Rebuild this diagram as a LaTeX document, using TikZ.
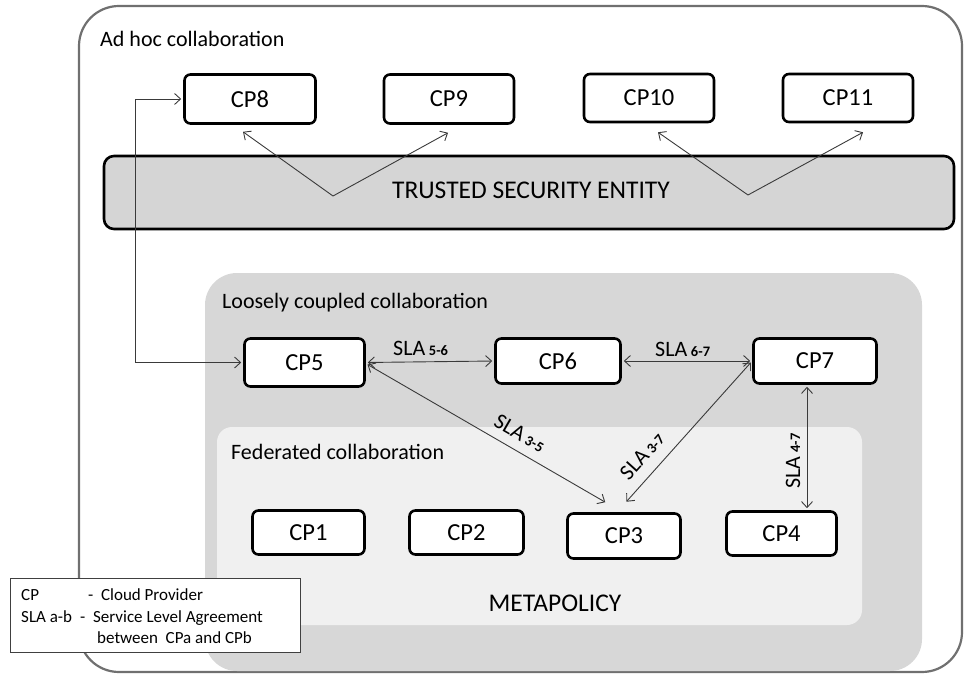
\documentclass[tikz,border=0pt]{standalone}
\usepackage{fontspec}
\setmainfont{Carlito}
\usetikzlibrary{arrows.meta,calc}
\definecolor{loosegray}{HTML}{D7D7D7}
\definecolor{fedgray}{HTML}{F0F0F0}
\definecolor{tsegray}{HTML}{D5D5D5}
\definecolor{arrgray}{HTML}{3A3A3A}
\definecolor{outergray}{HTML}{707070}
\begin{document}
\begin{tikzpicture}[x=1pt,y=-1pt,
  cpbox/.style={draw=black, line width=2.6pt, rounded corners=6pt, fill=white, inner sep=0pt,
    font=\fontsize{24.5}{28}\selectfont},
  toplbl/.style={font=\fontsize{22}{26}\selectfont, anchor=base west, inner sep=0pt},
  biglbl/.style={font=\fontsize{25.5}{30}\selectfont, inner sep=0pt},
  legtxt/.style={font=\fontsize{17}{20}\selectfont, anchor=base west, inner sep=0pt},
  slalbl/.style={font=\fontsize{22}{26}\selectfont, inner sep=0pt},
  link/.style={draw=arrgray, line width=0.9pt,
    {Straight Barb[length=6pt,width=11pt]}-{Straight Barb[length=6pt,width=11pt]},
    shorten <=2pt, shorten >=2pt},
  onelink/.style={draw=arrgray, line width=0.9pt,
    -{Straight Barb[length=6pt,width=11pt]}}]
\useasboundingbox (0,0) rectangle (965,676);
\newcommand{\slatext}[1]{SLA\,{\fontsize{14.5}{17}\selectfont\bfseries #1}}

% regions
\draw[outergray, line width=2.2pt, rounded corners=40pt] (79,6) rectangle (962,672);
\fill[loosegray, rounded corners=32pt] (205,273) rectangle (922,671);
\fill[fedgray, rounded corners=15pt] (217,427) rectangle (862,625);
\draw[black, line width=2.6pt, fill=tsegray, rounded corners=10pt] (104,156) rectangle (954,229);

% region labels
\node[toplbl] (adhoc) at (100,47) {Ad hoc collaboration};
\node[toplbl] (loose) at (222,308) {Loosely coupled collaboration};
\node[toplbl] (fed) at (231,459) {Federated collaboration};
\node[biglbl] (tse) at (531,190) {TRUSTED SECURITY ENTITY};
\node[biglbl] (meta) at (555,603) {METAPOLICY};

% CP boxes
\node[cpbox, minimum width=131, minimum height=49] (cp8) at (250,99) {CP8};
\node[cpbox, minimum width=130, minimum height=49] (cp9) at (449,99) {CP9};
\node[cpbox, minimum width=130, minimum height=48] (cp10) at (649,98) {CP10};
\node[cpbox, minimum width=130, minimum height=48] (cp11) at (848,98) {CP11};
\node[cpbox, minimum width=120, minimum height=48] (cp5) at (304.5,362.5) {CP5};
\node[cpbox, minimum width=125, minimum height=45] (cp6) at (558,361) {CP6};
\node[cpbox, minimum width=123, minimum height=45] (cp7) at (815,361) {CP7};
\node[cpbox, minimum width=112, minimum height=44] (cp1) at (308.5,532.5) {CP1};
\node[cpbox, minimum width=114, minimum height=44] (cp2) at (466.5,532.5) {CP2};
\node[cpbox, minimum width=113, minimum height=45] (cp3) at (624,536) {CP3};
\node[cpbox, minimum width=110, minimum height=44] (cp4) at (781.5,533.5) {CP4};

% trusted entity arrows
\coordinate (v1) at (333,196);
\coordinate (v2) at (748,195);
\draw[onelink] (v1) -- ([xshift=-7pt,yshift=-7pt]cp8.south);
\draw[onelink] (v1) -- ([xshift=-1pt,yshift=-8pt]cp9.south);
\draw[onelink] (v2) -- ([xshift=9pt,yshift=-9pt]cp10.south);
\draw[onelink] (v2) -- ([xshift=15pt,yshift=-9pt]cp11.south);

% CP5 to CP8 elbow
\coordinate (e1) at (135,362.5);
\coordinate (e2) at (135,99);
\draw[link] (cp5.west) -- (e1) -- (e2) -- (cp8.west);

% SLA links
\draw[link] (cp5.east) -- (cp6.west);
\draw[link] (cp6.east) -- (cp7.west);
\draw[link] ([yshift=-1pt]cp5.east) -- ([xshift=-17pt,yshift=9pt]cp3.north);
\draw[link] ([xshift=1pt,yshift=9pt]cp3.north) -- (cp7.west);
\draw[link] ([xshift=-8pt]cp7.south) -- ([xshift=25.5pt]cp4.north);

% SLA labels
\node[slalbl, anchor=base west] (sla56) at (393,355) {\slatext{5-6}};
\node[slalbl, anchor=base west] (sla67) at (655,356) {\slatext{6-7}};
\node[slalbl, rotate=-30] (sla35) at (520,433) {\slatext{3-5}};
\node[slalbl, rotate=48] (sla37) at (642,456) {\slatext{3-7}};
\node[slalbl, rotate=90] (sla47) at (793,461) {\slatext{4-7}};

% legend
\draw[black!75, line width=1pt, fill=white] (10,578) rectangle (300,652);
\node[legtxt] (lg1a) at (21,600) {CP};
\node[legtxt] (lg1b) at (88,600) {-\ \ Cloud Provider};
\node[legtxt] (lg2a) at (21,622) {SLA a-b};
\node[legtxt] (lg2b) at (80,622) {-\ \ Service Level Agreement};
\node[legtxt] (lg3) at (97,643) {between\ \ CPa and CPb};
\end{tikzpicture}
\end{document}
